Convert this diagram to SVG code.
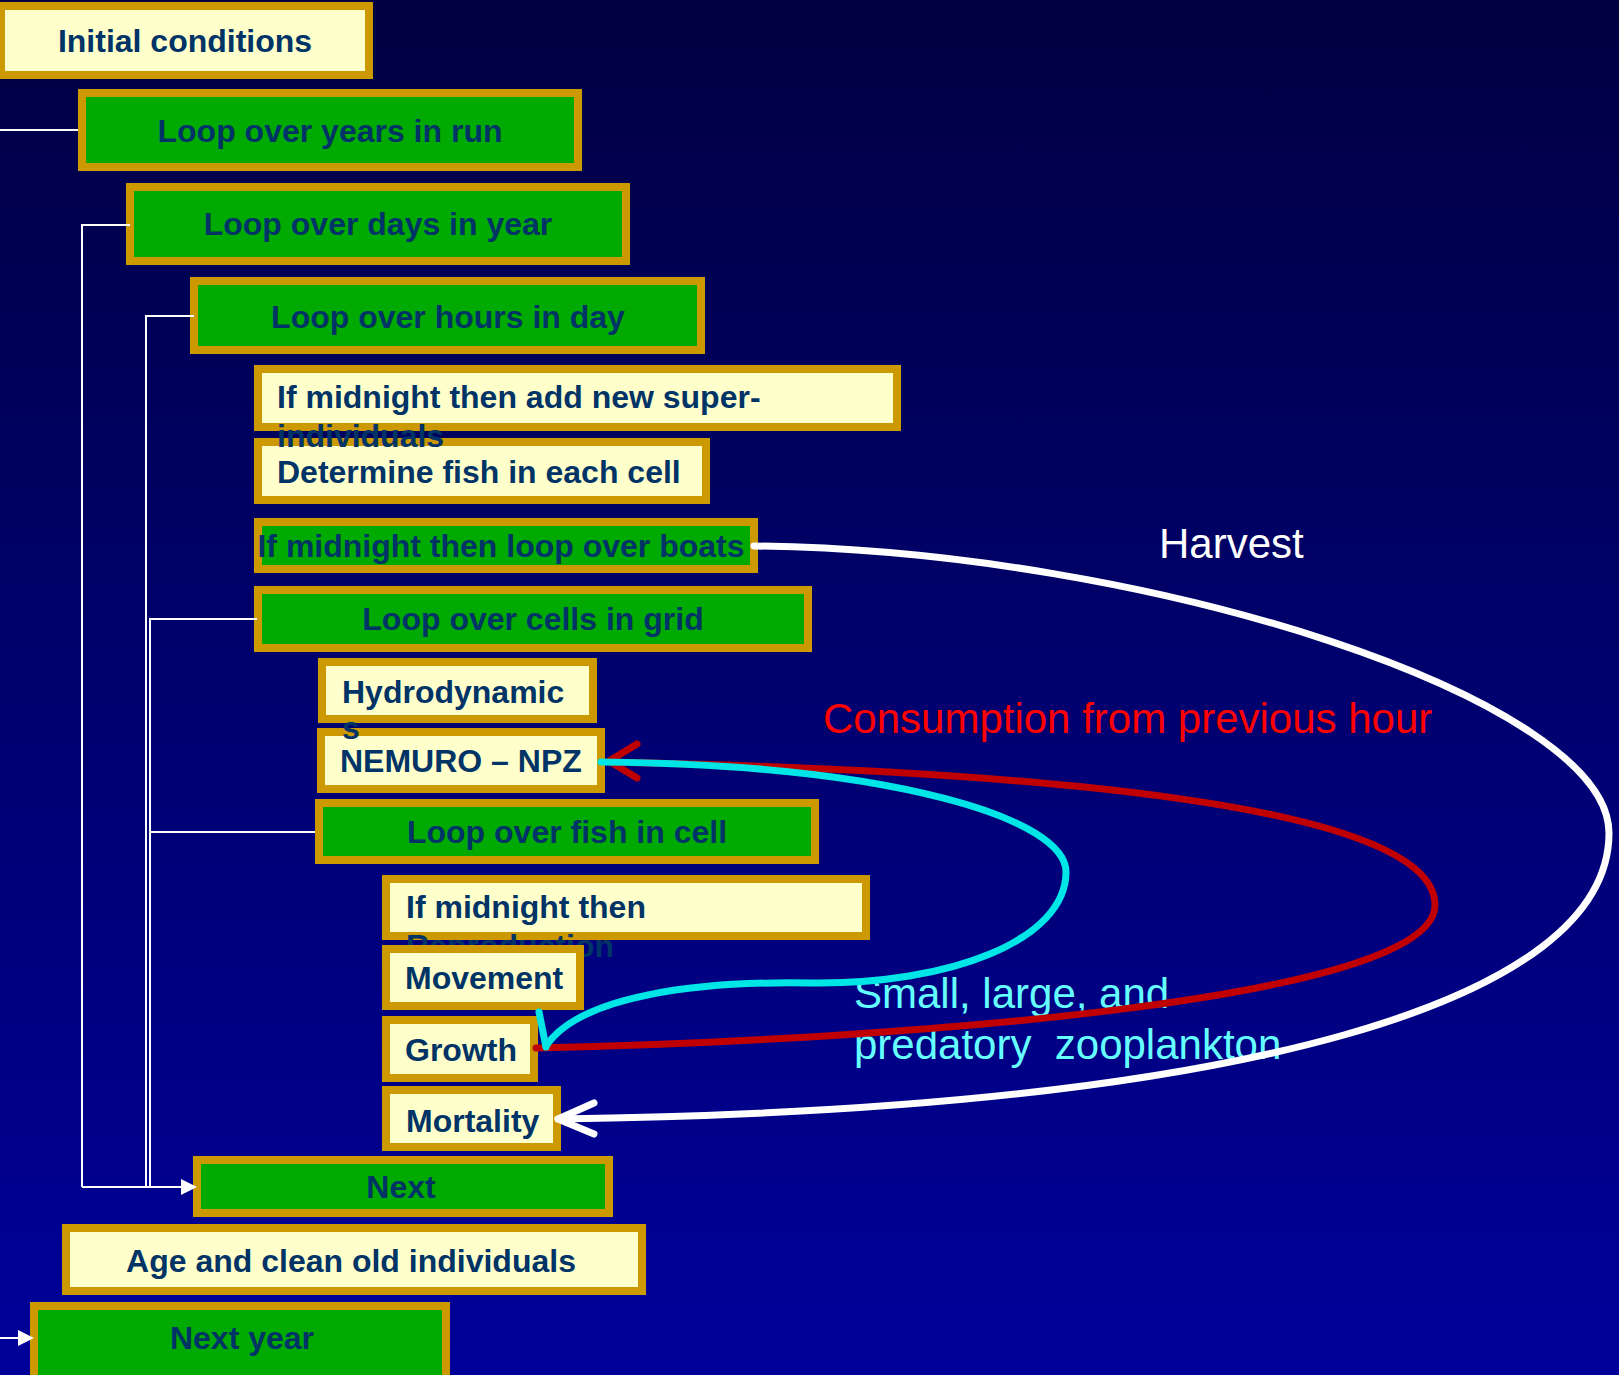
<svg xmlns="http://www.w3.org/2000/svg" width="1619" height="1375" viewBox="0 0 1619 1375">
<defs>
<linearGradient id="bg" x1="0" y1="0" x2="0" y2="1">
<stop offset="0" stop-color="#000042"/>
<stop offset="1" stop-color="#00009A"/>
</linearGradient>
<style>
.box rect{stroke:#CC9900;stroke-width:8}
.cream rect{fill:#FFFFCC}
.green rect{fill:#00AA00}
.box text{font-family:"Liberation Sans",Arial,sans-serif;font-weight:bold;font-size:32px;fill:#003366}
.c{text-anchor:middle}
.thin{stroke:#FFFFFF;stroke-width:2;fill:none}
.ah{fill:#FFFFFF}
.curve{fill:none;stroke-width:7;stroke-linecap:round;stroke-linejoin:round}
.w{stroke:#FFFFFF}
.r{stroke:#C00000}
.cy{stroke:#00E5E5}
.lab{font-family:"Liberation Sans",Arial,sans-serif;font-size:42px}
</style>
</defs>
<rect x="0" y="0" width="1619" height="1375" fill="url(#bg)"/>

<g id="nodes">
<g id="initial" class="box cream"><rect x="1" y="6" width="368" height="69"/><text class="c" x="185" y="52">Initial conditions</text></g>
<g id="years" class="box green"><rect x="82" y="93" width="496" height="74"/><text class="c" x="330" y="142">Loop over years in run</text></g>
<g id="days" class="box green"><rect x="130" y="187" width="496" height="74"/><text class="c" x="378" y="235">Loop over days in year</text></g>
<g id="hours" class="box green"><rect x="194" y="281" width="507" height="69"/><text class="c" x="448" y="328">Loop over hours in day</text></g>
<g id="determine" class="box cream"><rect x="258" y="442" width="448" height="58"/><text x="277" y="483">Determine fish in each cell</text></g>
<g id="superind" class="box cream"><rect x="258" y="369" width="639" height="58"/><text x="277" y="408">If midnight then add new super-</text><text x="277" y="447">individuals</text></g>
<g id="boats" class="box green"><rect x="258" y="522" width="496" height="47"/><text class="c" x="501" y="557">If midnight then loop over boats</text></g>
<g id="cells" class="box green"><rect x="258" y="590" width="550" height="58"/><text class="c" x="533" y="630">Loop over cells in grid</text></g>
<g id="nemuro" class="box cream"><rect x="321" y="732" width="280" height="57"/><text x="340" y="772">NEMURO – NPZ</text></g>
<g id="hydro" class="box cream"><rect x="322" y="662" width="271" height="57"/><text x="342" y="703">Hydrodynamic</text><text x="342" y="739">s</text></g>
<g id="fish" class="box green"><rect x="319" y="803" width="496" height="57"/><text class="c" x="567" y="843">Loop over fish in cell</text></g>
<g id="repro" class="box cream"><rect x="386" y="879" width="480" height="57"/><text x="406" y="918">If midnight then</text><text x="406" y="957">Reproduction</text></g>
<g id="movement" class="box cream"><rect x="386" y="949" width="194" height="57"/><text x="405" y="989">Movement</text></g>
<g id="growth" class="box cream"><rect x="386" y="1020" width="148" height="58"/><text x="405" y="1061">Growth</text></g>
<g id="mortality" class="box cream"><rect x="386" y="1090" width="171" height="57"/><text x="406" y="1132">Mortality</text></g>
<g id="next" class="box green"><rect x="197" y="1160" width="412" height="53"/><text class="c" x="401" y="1198">Next</text></g>
<g id="age" class="box cream"><rect x="66" y="1228" width="576" height="63"/><text class="c" x="351" y="1272">Age and clean old individuals</text></g>
<g id="nextyear" class="box green"><rect x="34" y="1306" width="412" height="74"/><text class="c" x="242" y="1349">Next year</text></g>
</g>

<g id="labels">
<text class="lab" x="1159" y="558" fill="#FFFFFF">Harvest</text>
<text class="lab" x="823" y="733" fill="#FF0000">Consumption from previous hour</text>
<text class="lab" x="854" y="1008" fill="#66FFFF">Small, large, and</text>
<text class="lab" x="854" y="1059" fill="#66FFFF" xml:space="preserve">predatory  zooplankton</text>
</g>

<g id="connectors">
<path class="thin" d="M0,130 H78"/>
<path class="thin" d="M130,225 H82 V1187"/>
<path class="thin" d="M194,316 H146 V1187"/>
<path class="thin" d="M257,619 H150 V1187"/>
<path class="thin" d="M315,832 H150"/>
<path class="thin" d="M82,1187 H184"/>
<polygon class="ah" points="181,1179 197,1187 181,1195"/>
<path class="thin" d="M0,1338 H20"/>
<polygon class="ah" points="18,1330 34,1338 18,1346"/>

<path class="curve w" d="M754,546 C1150,550 1609,700 1609,833 C1609,1000 1250,1110 558,1119"/>
<path class="curve w" d="M594,1103 L558,1119 L594,1134"/>
<path class="curve r" d="M536,1048 C900,1040 1435,1000 1435,905 C1435,800 1000,770 610,762"/>
<path class="curve r" d="M637,744 L609,761 L637,778"/>
<path class="curve cy" d="M601,762 C900,765 1066,820 1066,872 C1066,940 950,985 810,983 C700,981 580,995 546,1046"/>
<path class="curve cy" d="M539,1012 L546,1047"/>
</g>
</svg>
